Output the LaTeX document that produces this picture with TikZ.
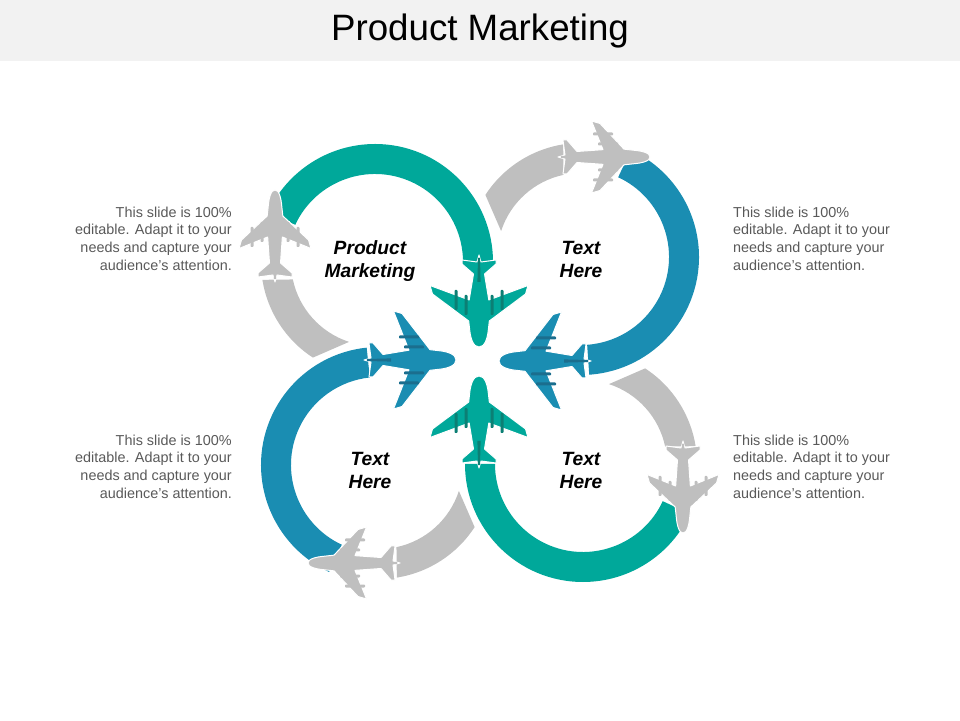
\documentclass[tikz,border=0pt]{standalone}
\usepackage{fontspec}
\setmainfont{Liberation Sans}
\definecolor{tealarc}{HTML}{00A89A}
\definecolor{tealdark}{HTML}{0C7F74}
\definecolor{bluearc}{HTML}{1A8DB2}
\definecolor{bluedark}{HTML}{1B6E8E}
\definecolor{greyarc}{HTML}{BFBFBF}
\definecolor{sidetext}{HTML}{595959}
\tikzset{
    sidenote/.style={inner sep=0pt, text=sidetext, font=\fontsize{14.4}{17.7}\selectfont},
    ringlabel/.style={inner sep=0pt, align=center, font=\fontsize{19.2}{23}\selectfont\bfseries\itshape},
    pics/plane/.style n args={4}{code={
        \pgfmathsetmacro\bodyw{#3*0.19}
        \foreach \side in {1,-1} {
            \path[fill=#1, draw=white, line width=1pt] ({\side*13-1.5},-32) rectangle ({\side*13+1.5},-52);
            \path[fill=#1, draw=white, line width=1pt] ({\side*23-1.5},-37) rectangle ({\side*23+1.5},-57);
        }
        \path[fill=#1, draw=white, line width=1pt, line join=round]
            (0,0) .. controls ({\bodyw*0.6},0) and ({\bodyw*0.9},-8) .. (\bodyw,-17) -- ({\bodyw+1},-26) -- ({#3-2.5},{-#4+8}) -- (#3,{-#4-0.5})
            -- ({\bodyw+0.5},-47) -- (5.5,-73) -- (17,-83) -- (17,-87) -- (2,-85) -- (0,-92) -- (-2,-85)
            -- (-17,-87) -- (-17,-83) -- (-5.5,-73) -- ({-\bodyw-0.5},-47) -- (-#3,{-#4-0.5}) -- ({-#3+2.5},{-#4+8})
            -- ({-\bodyw-1},-26) -- (-\bodyw,-17) .. controls ({-\bodyw*0.9},-8) and ({-\bodyw*0.6},0) .. (0,0) -- cycle;
        \foreach \side in {1,-1} {
            \fill[#2, rounded corners=0.8pt] ({\side*13-1.5},-32) rectangle ({\side*13+1.5},-52);
            \fill[#2, rounded corners=0.8pt] ({\side*23-1.5},-37) rectangle ({\side*23+1.5},-57);
        }
        \fill[#2] (-1.6,-65) -- (1.6,-65) -- (1,-89) -- (-1,-89) -- cycle;
    }}
}
\begin{document}
\begin{tikzpicture}[x=1pt, y=1pt]
    \useasboundingbox (0,0) rectangle (960,720);
    \fill[black!5] (0,659) rectangle (960,720);
    \node[inner sep=0pt, font=\fontsize{36.7}{40}\selectfont] (title) at (480,689) {Product Marketing};

    \foreach \cx/\cy/\rot/\startang/\col in {375/458/0/0/tealarc, 581/463/-90/4/bluearc, 379/255/90/6/bluearc, 583/256/180/0/tealarc} {
        \begin{scope}[shift={(\cx,\cy)}, rotate=\rot]
            \fill[\col] (\startang:118) arc[start angle=\startang, end angle=155, radius=118]
                -- (155:88) arc[start angle=155, end angle=\startang, radius=88] -- cycle;
            \fill[greyarc] (189:114) arc[start angle=189, end angle=237, radius=114]
                -- (252:84) arc[start angle=252, end angle=192, radius=84] -- cycle;
        \end{scope}
    }

    \pic[rotate=180] at (479,373) {plane={tealarc}{tealdark}{49}{61}};
    \pic[rotate=0] at (479,344) {plane={tealarc}{tealdark}{49}{61}};
    \pic[rotate=90] at (499,359) {plane={bluearc}{bluedark}{49}{62}};
    \pic[rotate=-90] at (456,360) {plane={bluearc}{bluedark}{49}{62}};
    \pic[rotate=0] at (275,530) {plane={greyarc}{greyarc}{36}{58}};
    \pic[rotate=-90] at (650,563) {plane={greyarc}{greyarc}{36}{58}};
    \pic[rotate=90] at (308,157) {plane={greyarc}{greyarc}{36}{58}};
    \pic[rotate=180] at (683,187) {plane={greyarc}{greyarc}{36}{58}};

    \node[ringlabel] (labeltl) at (370,458.5) {Product\\Marketing};
    \node[ringlabel] (labeltr) at (581,460.5) {Text\\Here};
    \node[ringlabel] (labelbl) at (370,250) {Text\\Here};
    \node[ringlabel] (labelbr) at (581,250) {Text\\Here};

    \node[sidenote, align=right, anchor=east] (notetl) at (232,481.5) {This slide is 100\%\\editable. Adapt it to your\\needs and capture your\\audience’s attention.};
    \node[sidenote, align=right, anchor=east] (notebl) at (232,253.5) {This slide is 100\%\\editable. Adapt it to your\\needs and capture your\\audience’s attention.};
    \node[sidenote, align=left, anchor=west] (notetr) at (733,481.5) {This slide is 100\%\\editable. Adapt it to your\\needs and capture your\\audience’s attention.};
    \node[sidenote, align=left, anchor=west] (notebr) at (733,253.5) {This slide is 100\%\\editable. Adapt it to your\\needs and capture your\\audience’s attention.};
\end{tikzpicture}
\end{document}
